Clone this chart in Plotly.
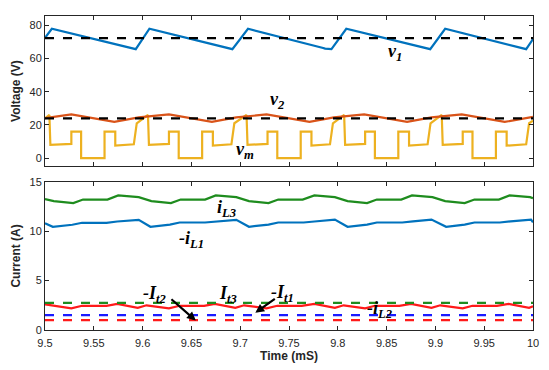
import plotly.graph_objects as go

# ---------------- data ----------------
# Top panel: voltages
t_v1 = [9.5, 9.507, 9.593, 9.607, 9.692, 9.708, 9.785, 9.787, 9.7935, 9.8087, 9.8947, 9.91, 9.993, 10.0]
v1 = [72.5, 78.0, 65.7, 78.0, 65.7, 78.0, 66.4, 66.0, 65.7, 78.0, 65.7, 78.0, 65.7, 71.8]

t_v2 = [9.5, 9.527, 9.571, 9.596, 9.627, 9.671, 9.696, 9.727, 9.771, 9.796, 9.827, 9.871, 9.896, 9.927, 9.971, 9.996, 10.0]
v2 = [24.1, 26.3, 21.8, 24.5, 26.3, 21.8, 24.5, 26.3, 21.8, 24.5, 26.3, 21.8, 24.5, 26.3, 21.8, 24.5, 24.8]

t_vm = [9.5, 9.5045, 9.5055, 9.527, 9.527, 9.537, 9.537, 9.561, 9.561, 9.572, 9.572, 9.591, 9.594,
        9.6055, 9.6065, 9.627, 9.627, 9.637, 9.637, 9.661, 9.661, 9.672, 9.672, 9.691, 9.694,
        9.7065, 9.7075, 9.728, 9.728, 9.738, 9.738, 9.762, 9.762, 9.773, 9.773, 9.792, 9.795,
        9.8065, 9.8075, 9.828, 9.828, 9.838, 9.838, 9.862, 9.862, 9.873, 9.873, 9.892, 9.895,
        9.9065, 9.9075, 9.928, 9.928, 9.938, 9.938, 9.962, 9.962, 9.973, 9.973, 9.993, 9.996, 10.0]
vm = [24.0, 26.0, 8.0, 8.5, 16.0, 16.0, 0.0, 0.0, 16.0, 16.0, 7.5, 8.3, 21.0,
      26.0, 8.0, 8.5, 16.0, 16.0, 0.0, 0.0, 16.0, 16.0, 7.5, 8.3, 21.0,
      26.0, 8.0, 8.5, 16.0, 16.0, 0.0, 0.0, 16.0, 16.0, 7.5, 8.3, 21.0,
      26.0, 8.0, 8.5, 16.0, 16.0, 0.0, 0.0, 16.0, 16.0, 7.5, 8.3, 21.0,
      26.0, 8.0, 8.5, 16.0, 16.0, 0.0, 0.0, 16.0, 16.0, 7.5, 8.3, 21.0, 22.5]

v1_ref = 72.3
v2_ref = 24.0

# Bottom panel: currents
t_iL3 = [9.5, 9.509, 9.529, 9.539, 9.564, 9.575, 9.596, 9.609, 9.629, 9.639, 9.664, 9.675, 9.696,
         9.709, 9.729, 9.739, 9.764, 9.776, 9.797, 9.810, 9.830, 9.840, 9.865, 9.876, 9.897,
         9.910, 9.930, 9.940, 9.965, 9.976, 9.997, 10.0]
iL3 = [13.25, 13.05, 12.85, 13.2, 13.2, 13.62, 13.45, 13.05, 12.85, 13.2, 13.2, 13.62, 13.45,
       13.05, 12.85, 13.2, 13.2, 13.62, 13.45, 13.05, 12.85, 13.2, 13.2, 13.62, 13.45,
       13.05, 12.85, 13.2, 13.2, 13.62, 13.45, 13.35]

t_iL1 = [9.5, 9.508, 9.528, 9.538, 9.563, 9.574, 9.596, 9.608, 9.628, 9.638, 9.664, 9.675, 9.696,
         9.709, 9.729, 9.739, 9.765, 9.776, 9.797, 9.810, 9.830, 9.840, 9.866, 9.877, 9.896,
         9.911, 9.930, 9.940, 9.966, 9.977, 9.998, 10.0]
iL1 = [10.8, 10.45, 10.65, 10.85, 10.85, 10.98, 11.15, 10.45, 10.67, 10.88, 10.88, 10.98, 11.15,
       10.45, 10.67, 10.88, 10.88, 10.98, 11.18, 10.45, 10.67, 10.88, 10.88, 11.0, 11.18,
       10.45, 10.67, 10.88, 10.88, 11.0, 11.18, 10.9]

t_iL2 = [9.5, 9.527, 9.538, 9.563, 9.574, 9.595, 9.604, 9.627, 9.638, 9.663, 9.674, 9.695, 9.704,
         9.727, 9.738, 9.763, 9.776, 9.797, 9.806, 9.828, 9.838, 9.863, 9.875, 9.896, 9.905,
         9.928, 9.938, 9.963, 9.975, 9.996, 10.0]
iL2 = [2.6, 2.2, 2.45, 2.45, 2.65, 2.25, 2.5, 2.2, 2.45, 2.45, 2.65, 2.25, 2.5,
       2.2, 2.45, 2.45, 2.65, 2.25, 2.5, 2.2, 2.45, 2.45, 2.65, 2.25, 2.5,
       2.2, 2.45, 2.45, 2.65, 2.25, 2.4]

It3 = 2.75
It1 = 1.5
It2 = 1.0

x_range = [9.5, 10.0]
x_ticks = [9.5, 9.55, 9.6, 9.65, 9.7, 9.75, 9.8, 9.85, 9.9, 9.95, 10.0]
x_ticklabels = ["9.5", "9.55", "9.6", "9.65", "9.7", "9.75", "9.8", "9.85", "9.9", "9.95", "10"]

# ---------------- styles ----------------
C_BLUE = "#0072BD"
C_ORANGE = "#D95319"
C_YELLOW = "#EDB120"
C_GREEN = "#1E8C1E"
C_RED = "#FF1A1A"
AX = "#262626"

fig = go.Figure()

def line(x, y, color, xa, ya, width=2.2, dash=None):
    fig.add_trace(go.Scatter(x=x, y=y, mode="lines", xaxis=xa, yaxis=ya,
                             line=dict(color=color, width=width, dash=dash),
                             showlegend=False, hoverinfo="skip"))

# top panel
line(t_vm, vm, C_YELLOW, "x", "y")
line(t_v2, v2, C_ORANGE, "x", "y")
line(t_v1, v1, C_BLUE, "x", "y")
line(x_range, [v1_ref, v1_ref], "black", "x", "y", width=2.2, dash="dash")
line(x_range, [v2_ref, v2_ref], "black", "x", "y", width=2.2, dash="dash")

# bottom panel
line(t_iL3, iL3, C_GREEN, "x2", "y2")
line(t_iL1, iL1, C_BLUE, "x2", "y2")
line(t_iL2, iL2, C_RED, "x2", "y2")
line(x_range, [It3, It3], C_GREEN, "x2", "y2", dash="dash")
line(x_range, [It1, It1], "#1A1AFF", "x2", "y2", dash="dash")
line(x_range, [It2, It2], C_RED, "x2", "y2", dash="dash")

tickfont = dict(family="Liberation Sans, Arial", size=11, color=AX)
titlefont = dict(family="Liberation Sans, Arial", size=12, color=AX)

axis_common = dict(showline=True, linecolor=AX, linewidth=1, mirror="ticks",
                   ticks="inside", ticklen=4, tickcolor=AX, showgrid=False,
                   zeroline=False, tickfont=tickfont)

fig.update_layout(
    width=549, height=370,
    margin=dict(l=45, r=10, t=11, b=37),
    paper_bgcolor="white", plot_bgcolor="white",
    xaxis=dict(domain=[0, 1], range=x_range, tickvals=x_ticks, showticklabels=False,
               anchor="y", **axis_common),
    yaxis=dict(domain=[0.5217, 1.0], range=[-4.9, 85.7], tickvals=[0, 20, 40, 60, 80],
               anchor="x", title=dict(text="<b>Voltage (V)</b>", font=titlefont, standoff=6),
               **axis_common),
    xaxis2=dict(domain=[0, 1], range=x_range, tickvals=x_ticks, ticktext=x_ticklabels,
                anchor="y2", tickprefix="<b>", ticksuffix="</b>", ticklabelstandoff=3,
                title=dict(text="<b>Time (mS)</b>", font=titlefont, standoff=2),
                **axis_common),
    yaxis2=dict(domain=[0, 0.472], range=[0, 15], tickvals=[0, 5, 10, 15],
                anchor="x2", title=dict(text="<b>Current (A)</b>", font=titlefont, standoff=6),
                **axis_common),
)
fig.update_yaxes(tickprefix="<b>", ticksuffix="</b>")

SERIF = "Liberation Serif, Times New Roman, serif"

def label(text, x, y, xa, ya, size=18):
    fig.add_annotation(text=text, x=x, y=y, xref=xa, yref=ya, showarrow=False,
                       font=dict(family=SERIF, size=size, color="black"))

def arrow(x0, y0, x1, y1, xa, ya):
    fig.add_annotation(text="", x=x1, y=y1, ax=x0, ay=y0, xref=xa, yref=ya,
                       axref=xa, ayref=ya, showarrow=True, arrowhead=2,
                       arrowsize=0.8, arrowwidth=2.2, arrowcolor="black")

label("<b><i>v<sub>1</sub></i></b>", 9.859, 63.5, "x", "y")
label("<b><i>v<sub>2</sub></i></b>", 9.738, 34.5, "x", "y")
label("<b><i>v<sub>m</sub></i></b>", 9.705, 4.5, "x", "y")

label("<b><i>i<sub>L3</sub></i></b>", 9.686, 12.3, "x2", "y2")
label("<b><i>-i<sub>L1</sub></i></b>", 9.650, 9.2, "x2", "y2")
label("<b><i>-I<sub>t2</sub></i></b>", 9.612, 3.55, "x2", "y2")
label("<b><i>I<sub>t3</sub></i></b>", 9.688, 3.55, "x2", "y2")
label("<b><i>-I<sub>t1</sub></i></b>", 9.743, 3.65, "x2", "y2")
label("<b><i>-i<sub>L2</sub></i></b>", 9.843, 2.1, "x2", "y2")

arrow(9.628, 3.25, 9.6545, 0.95, "x2", "y2")
arrow(9.737, 3.25, 9.7155, 1.75, "x2", "y2")

fig.write_html("out.html")
